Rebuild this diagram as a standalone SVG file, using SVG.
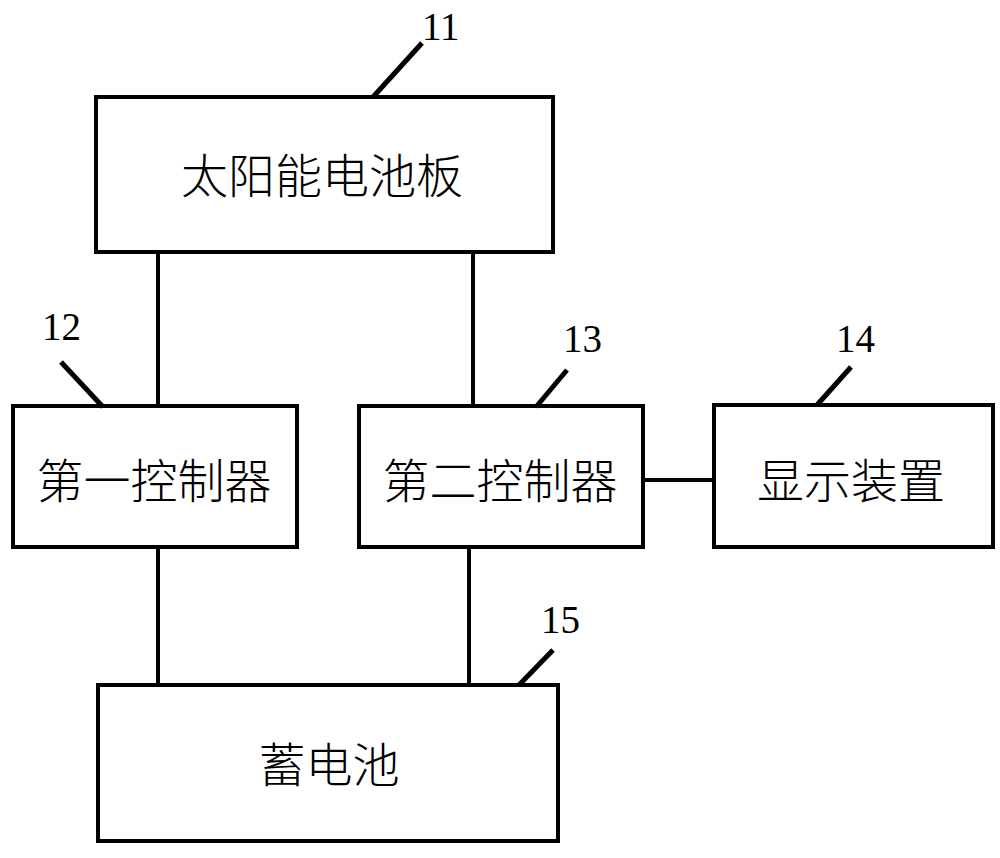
<svg xmlns="http://www.w3.org/2000/svg" width="1000" height="858" viewBox="0 0 1000 858">
<style>
.box{fill:#fff;stroke:#000;stroke-width:4}
.lbl{font-family:"Noto Sans CJK SC","Noto Sans CJK JP",sans-serif;font-size:47px;font-weight:300;fill:#000;text-anchor:middle;dominant-baseline:central}
.num{font-family:"Liberation Serif",serif;font-size:39px;fill:#000}
.wire{stroke:#000;stroke-width:4;fill:none}
.lead{stroke:#000;stroke-width:5;fill:none}
</style>
<rect width="1000" height="858" fill="#fff"/>
<g id="connectors">
<line class="wire" x1="158" y1="253" x2="158" y2="405"/>
<line class="wire" x1="473" y1="253" x2="473" y2="405"/>
<line class="wire" x1="158" y1="547" x2="158" y2="685"/>
<line class="wire" x1="469" y1="547" x2="469" y2="685"/>
<line class="wire" x1="643" y1="480" x2="713" y2="480" stroke-width="5"/>
</g>
<g id="n11">
<rect class="box" x="96" y="97" width="457" height="155"/>
<text class="lbl" x="322" y="172">太阳能电池板</text>
<line class="lead" x1="373" y1="97" x2="422" y2="43"/>
<text class="num" x="422" y="40">11</text>
</g>
<g id="n12">
<rect class="box" x="13" y="406" width="284" height="141"/>
<text class="lbl" x="154" y="477">第一控制器</text>
<line class="lead" x1="61" y1="362" x2="103" y2="407"/>
<text class="num" x="42" y="340">12</text>
</g>
<g id="n13">
<rect class="box" x="359" y="406" width="284" height="141"/>
<text class="lbl" x="500" y="477">第二控制器</text>
<line class="lead" x1="567" y1="370" x2="536" y2="407"/>
<text class="num" x="563" y="352">13</text>
</g>
<g id="n14">
<rect class="box" x="714" y="405" width="279" height="142" stroke-width="5"/>
<text class="lbl" x="851" y="477">显示装置</text>
<line class="lead" x1="851" y1="367" x2="817" y2="405"/>
<text class="num" x="836" y="352">14</text>
</g>
<g id="n15">
<rect class="box" x="98" y="685" width="460" height="156"/>
<text class="lbl" x="329" y="761">蓄电池</text>
<line class="lead" x1="553" y1="650" x2="519" y2="685"/>
<text class="num" x="541" y="633">15</text>
</g>
</svg>
